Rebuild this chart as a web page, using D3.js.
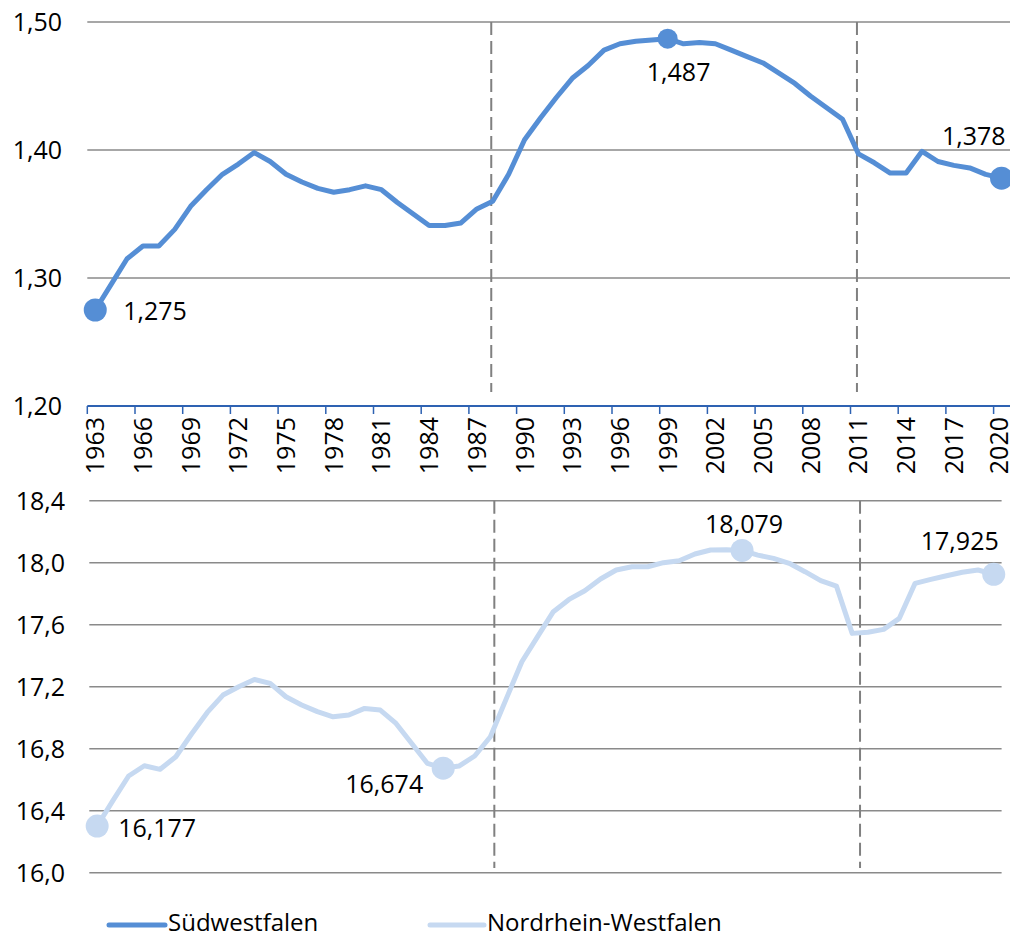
<!DOCTYPE html>
<html>
<head>
<meta charset="utf-8">
<script src="https://cdn.jsdelivr.net/npm/d3@7"></script>
<style>
  html, body { margin: 0; padding: 0; background: #fff; }
  svg { display: block; }
  text { font-family: "Open Sans", "Noto Sans", sans-serif; fill: #000; }
</style>
</head>
<body>
<svg id="chart" width="1010" height="938"></svg>
<script>
// ---------- DATA ----------
const years = d3.range(1963, 2021);

const suedwestfalen = [
  1.275, 1.295, 1.315, 1.325, 1.325, 1.338, 1.356, 1.369, 1.381, 1.389,
  1.398, 1.391, 1.381, 1.375, 1.370, 1.367, 1.369, 1.372, 1.369, 1.359,
  1.350, 1.341, 1.341, 1.343, 1.354, 1.360, 1.381, 1.408, 1.425, 1.441,
  1.456, 1.466, 1.478, 1.483, 1.485, 1.486, 1.487, 1.483, 1.484, 1.483,
  1.478, 1.473, 1.468, 1.460, 1.452, 1.442, 1.433, 1.424, 1.397, 1.390,
  1.382, 1.382, 1.399, 1.391, 1.388, 1.386, 1.381, 1.378
];

const nordrheinWestfalen = [
  16.301, 16.465, 16.624, 16.690, 16.667, 16.748, 16.895, 17.034, 17.146, 17.200,
  17.247, 17.221, 17.135, 17.082, 17.039, 17.006, 17.017, 17.060, 17.049, 16.963,
  16.834, 16.705, 16.674, 16.688, 16.753, 16.877, 17.120, 17.361, 17.523, 17.684,
  17.763, 17.819, 17.895, 17.953, 17.974, 17.974, 18.000, 18.013, 18.056, 18.082,
  18.084, 18.079, 18.049, 18.028, 17.996, 17.942, 17.884, 17.849, 17.544, 17.551,
  17.570, 17.641, 17.867, 17.892, 17.916, 17.938, 17.953, 17.925
];

const topTicks = [1.20, 1.30, 1.40, 1.50];
const bottomTicks = [16.0, 16.4, 16.8, 17.2, 17.6, 18.0, 18.4];
const xTickYears = years.filter((y, i) => i % 3 === 0);
const periodBreaks = [1988, 2011];

const topMarked = [
  { year: 1963, label: "1,275" },
  { year: 1999, label: "1,487" },
  { year: 2020, label: "1,378" }
];
const bottomMarked = [
  { year: 1963, label: "16,177" },
  { year: 1985, label: "16,674" },
  { year: 2004, label: "18,079" },
  { year: 2020, label: "17,925" }
];

const seriesNames = ["Südwestfalen", "Nordrhein-Westfalen"];

// ---------- LAYOUT / STYLE ----------
const cTop = "#558ed5";
const cBottom = "#c6d9f1";
const cGrid = "#8a8a8a";
const cAxis = "#2e62b2";
const fs = 25;
const fmtComma = (d, dec) => d3.format("." + dec + "f")(d).replace(".", ",");

const topLabelPlace = {
  1963: { anchor: "start", dx: 28, dy: 10 },
  1999: { anchor: "middle", dx: 11, dy: 42 },
  2020: { anchor: "end", dx: 4, dy: -33 }
};
const bottomLabelPlace = {
  1963: { anchor: "start", dx: 21, dy: 11 },
  1985: { anchor: "end", dx: -20, dy: 25 },
  2004: { anchor: "middle", dx: 2, dy: -17 },
  2020: { anchor: "end", dx: 5, dy: -24 }
};

const svg = d3.select("#chart");

function placeLabel(g, list, xf, yf, vals, place) {
  g.selectAll("text.dl").data(list).enter()
    .append("text")
    .attr("class", "dl")
    .attr("font-size", fs)
    .attr("text-anchor", d => place[d.year].anchor)
    .attr("x", d => xf(d.year) + place[d.year].dx)
    .attr("y", d => yf(vals[years.indexOf(d.year)]) + place[d.year].dy)
    .text(d => d.label);
}

// ---------- TOP PANEL ----------
const xTop = d3.scaleBand().domain(years).range([87.3, 1009.5]).padding(0);
const yTop = d3.scaleLinear().domain([1.20, 1.50]).range([406, 22]);
const bwT = xTop.bandwidth();
const cxT = y => xTop(y) + bwT / 2;

const gTop = svg.append("g");
gTop.selectAll("line.grid").data(topTicks.filter(t => t > 1.2)).enter()
  .append("line")
  .attr("x1", 87.3).attr("x2", 1010)
  .attr("y1", d => yTop(d)).attr("y2", d => yTop(d))
  .attr("stroke", cGrid).attr("stroke-width", 1.5);
gTop.selectAll("text.ylab").data(topTicks).enter()
  .append("text")
  .attr("x", 62).attr("y", d => yTop(d))
  .attr("dy", "0.36em")
  .attr("text-anchor", "end")
  .attr("font-size", fs)
  .text(d => fmtComma(d, 2));
gTop.selectAll("line.brk").data(periodBreaks).enter()
  .append("line")
  .attr("x1", d => cxT(d) - 1.5).attr("x2", d => cxT(d) - 1.5)
  .attr("y1", 22).attr("y2", 392)
  .attr("stroke", "#808080").attr("stroke-width", 2)
  .attr("stroke-dasharray", "13,6");
const ax = gTop.append("g").attr("transform", "translate(0,406)");
ax.append("line").attr("x1", 87.3).attr("x2", 1010).attr("y1", 0).attr("y2", 0)
  .attr("stroke", cAxis).attr("stroke-width", 2);
ax.selectAll("line.tick").data(xTickYears).enter()
  .append("line")
  .attr("x1", d => xTop(d)).attr("x2", d => xTop(d))
  .attr("y1", 0).attr("y2", 8)
  .attr("stroke", cAxis).attr("stroke-width", 1.5);
ax.selectAll("text.xlab").data(xTickYears).enter()
  .append("text")
  .attr("transform", d => `translate(${Math.min(cxT(d), 999)},11) rotate(-90)`)
  .attr("text-anchor", "end")
  .attr("dy", "0.36em")
  .attr("font-size", fs)
  .text(d => d);
const lineTop = d3.line().x((d, i) => cxT(years[i])).y(d => yTop(d));
gTop.append("path").datum(suedwestfalen)
  .attr("d", lineTop).attr("fill", "none")
  .attr("stroke", cTop).attr("stroke-width", 5)
  .attr("stroke-linejoin", "round");
gTop.selectAll("circle").data(topMarked).enter()
  .append("circle")
  .attr("cx", d => cxT(d.year))
  .attr("cy", d => yTop(suedwestfalen[years.indexOf(d.year)]))
  .attr("r", d => d.year === 1999 ? 10 : 11.5)
  .attr("fill", cTop);
placeLabel(gTop, topMarked, cxT, yTop, suedwestfalen, topLabelPlace);

// ---------- BOTTOM PANEL ----------
const xBot = d3.scaleBand().domain(years).range([89.3, 1001.6]).padding(0);
const yBot = d3.scaleLinear().domain([16.0, 18.4]).range([872.7, 500.7]);
const bwB = xBot.bandwidth();
const cxB = y => xBot(y) + bwB / 2;
const gBot = svg.append("g");
gBot.selectAll("line.grid").data(bottomTicks).enter()
  .append("line")
  .attr("x1", 89.3).attr("x2", 1001.6)
  .attr("y1", d => yBot(d)).attr("y2", d => yBot(d))
  .attr("stroke", cGrid).attr("stroke-width", 1.5);
gBot.selectAll("text.ylab").data(bottomTicks).enter()
  .append("text")
  .attr("x", 65).attr("y", d => yBot(d))
  .attr("dy", "0.36em")
  .attr("text-anchor", "end")
  .attr("font-size", fs)
  .text(d => fmtComma(d, 1));
const botBreakOffsets = [0.75, 1.0];
gBot.selectAll("line.brk").data(periodBreaks).enter()
  .append("line")
  .attr("x1", (d, i) => xBot(d) + botBreakOffsets[i] * bwB)
  .attr("x2", (d, i) => xBot(d) + botBreakOffsets[i] * bwB)
  .attr("y1", 500.7).attr("y2", 868)
  .attr("stroke", "#808080").attr("stroke-width", 2)
  .attr("stroke-dasharray", "13,6");
const lineBot = d3.line().x((d, i) => cxB(years[i])).y(d => yBot(d));
gBot.append("path").datum(nordrheinWestfalen)
  .attr("d", lineBot).attr("fill", "none")
  .attr("stroke", cBottom).attr("stroke-width", 5)
  .attr("stroke-linejoin", "round");
gBot.selectAll("circle").data(bottomMarked).enter()
  .append("circle")
  .attr("cx", d => cxB(d.year))
  .attr("cy", d => yBot(nordrheinWestfalen[years.indexOf(d.year)]))
  .attr("r", 11.5)
  .attr("fill", cBottom);
placeLabel(gBot, bottomMarked, cxB, yBot, nordrheinWestfalen, bottomLabelPlace);

// ---------- LEGEND ----------
const legend = svg.append("g");
const legItems = [
  { name: seriesNames[0], color: cTop, x1: 109, x2: 165 },
  { name: seriesNames[1], color: cBottom, x1: 430, x2: 484 }
];
legItems.forEach(it => {
  legend.append("line").attr("x1", it.x1).attr("x2", it.x2)
    .attr("y1", 925).attr("y2", 925)
    .attr("stroke", it.color).attr("stroke-width", 5).attr("stroke-linecap", "round");
  legend.append("text").attr("x", it.x2 + 3).attr("y", 923).attr("dy", "0.34em")
    .attr("font-size", 24).text(it.name);
});
</script>
</body>
</html>
